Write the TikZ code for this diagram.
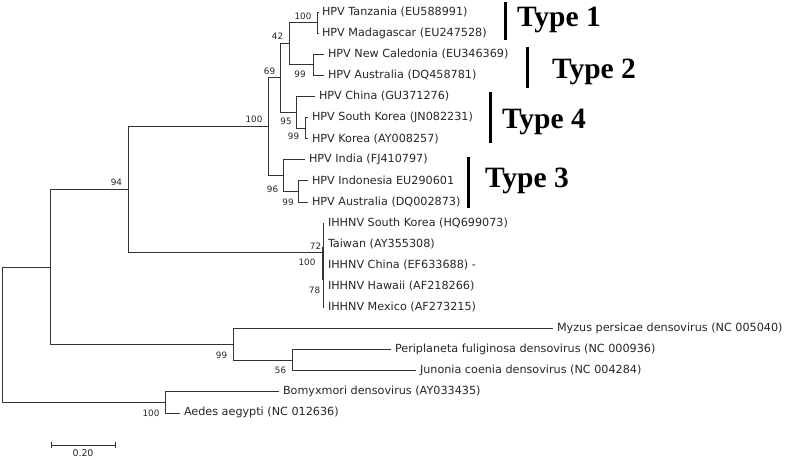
\documentclass[tikz,border=0pt]{standalone}
\usepackage{fontspec}
\setmainfont{DejaVu Sans}
\newfontfamily\typefont{Liberation Serif}
\begin{document}
\begin{tikzpicture}[x=1pt, y=-1pt, line width=0.8pt,
    every node/.style={inner sep=0pt, outer sep=0pt, text=black!85},
    branch/.style={draw=black!80},
    leaf/.style={anchor=west, inner xsep=4pt, font=\fontsize{11.2}{13}\selectfont},
    boot/.style={font=\fontsize{8.8}{10}\selectfont},
    typebar/.style={line width=3pt, draw=black},
    typelab/.style={anchor=base west, text=black, font=\typefont\bfseries\fontsize{29.5}{32}\selectfont}]
  \useasboundingbox (0,0) rectangle (787,460);
  % inner nodes of the tree
  \coordinate (root) at (2.3, 334.6);
  \coordinate (n50)  at (50, 266.9);
  \coordinate (n94)  at (128.7, 189.4);
  \coordinate (n100) at (268.5, 126.7);
  \coordinate (n69)  at (280, 77.9);
  \coordinate (n42)  at (289, 43.6);
  \coordinate (t1)   at (317.5, 22.5);
  \coordinate (t2)   at (313.7, 64.8);
  \coordinate (n95)  at (296.5, 112.2);
  \coordinate (kr)   at (305, 128);
  \coordinate (n96)  at (283, 175.5);
  \coordinate (id)   at (298, 191.4);
  \coordinate (ih)   at (323, 252);
  \coordinate (n99)  at (233, 344.3);
  \coordinate (n56)  at (292, 360.2);
  \coordinate (bm)   at (165, 402.4);
  % leaves
  \foreach \n/\x/\y/\t in {
      tza/318/12/{HPV Tanzania (EU588991)},
      mdg/318/33.1/{HPV Madagascar (EU247528)},
      ncl/324/54.2/{HPV New Caledonia (EU346369)},
      au1/324/75.3/{HPV Australia (DQ458781)},
      chn/315/96.4/{HPV China (GU371276)},
      skr/308/117.5/{HPV South Korea (JN082231)},
      kor/308/138.6/{HPV Korea (AY008257)},
      ind/305/159.7/{HPV India (FJ410797)},
      ino/308/180.8/{HPV Indonesia EU290601},
      au2/308/201.9/{HPV Australia (DQ002873)},
      ih1/324/223/{IHHNV South Korea (HQ699073)},
      ih2/324/244.1/{Taiwan (AY355308)},
      ih3/324/265.2/{IHHNV China (EF633688) -},
      ih4/324/286.3/{IHHNV Hawaii (AF218266)},
      ih5/324/307.4/{IHHNV Mexico (AF273215)},
      myz/553/328.5/{Myzus persicae densovirus (NC 005040)},
      per/391/349.6/{Periplaneta fuliginosa densovirus (NC 000936)},
      jun/416/370.7/{Junonia coenia densovirus (NC 004284)},
      bom/279/391.8/{Bomyxmori densovirus (AY033435)},
      aed/180/412.9/{Aedes aegypti (NC 012636)}}
    \node[leaf] (\n) at (\x, \y) {\t};
  % branches
  \foreach \p/\c in {root/n50, root/bm, n50/n94, n50/n99, n94/n100, n94/ih,
      n100/n69, n100/n96, n69/n42, n69/n95, n42/t1, n42/t2, n96/id, n95/kr, n99/n56}
    \draw[branch] (\p) |- (\c);
  \foreach \p/\c in {t1/tza, t1/mdg, t2/ncl, t2/au1, n95/chn, kr/skr, kr/kor,
      n96/ind, id/ino, id/au2, ih/ih1, ih/ih2, ih/ih3, ih/ih4, ih/ih5,
      n99/myz, n56/per, n56/jun, bm/bom, bm/aed}
    \draw[branch] (\p) |- (\c.west);
  \draw[branch, line width=2.4pt] ([yshift=5pt]ih) -- ([yshift=-28pt]ih);
  % bootstrap values
  \foreach \v/\x/\y [count=\i] in {100/303/16, 42/277.5/36, 99/300/74, 69/269.5/71,
      100/254/119.5, 95/286/121, 99/293.5/136, 96/272.5/189, 99/288/202,
      94/116.5/182, 72/315.5/246, 100/307/262.5, 78/314.5/290,
      99/221.5/355.5, 56/280.5/370.5, 100/151/413.5}
    \node[boot] (b\i) at (\x, \y) {\v};
  % genotype bars
  \foreach \x/\ya/\yb [count=\i] in {505/2/40, 527/47/88, 490/92/143, 468/157/208} {
    \coordinate (g\i a) at (\x, \ya);
    \coordinate (g\i b) at (\x, \yb);
    \draw[typebar] (g\i a) -- (g\i b);
  }
  \node[typelab] (ty1) at (517, 26.7) {Type 1};
  \node[typelab] (ty2) at (552, 78.3) {Type 2};
  \node[typelab] (ty4) at (502, 128) {Type 4};
  \node[typelab] (ty3) at (485, 187.5) {Type 3};
  % scale bar
  \coordinate (sa) at (51, 445);
  \coordinate (sb) at (115, 445);
  \draw[branch] (sa) -- (sb);
  \draw[branch] ([yshift=3pt]sa) -- ([yshift=-3pt]sa);
  \draw[branch] ([yshift=3pt]sb) -- ([yshift=-3pt]sb);
  \node[font=\fontsize{9.4}{11}\selectfont] (sl) at (83, 453.5) {0.20};
\end{tikzpicture}
\end{document}
